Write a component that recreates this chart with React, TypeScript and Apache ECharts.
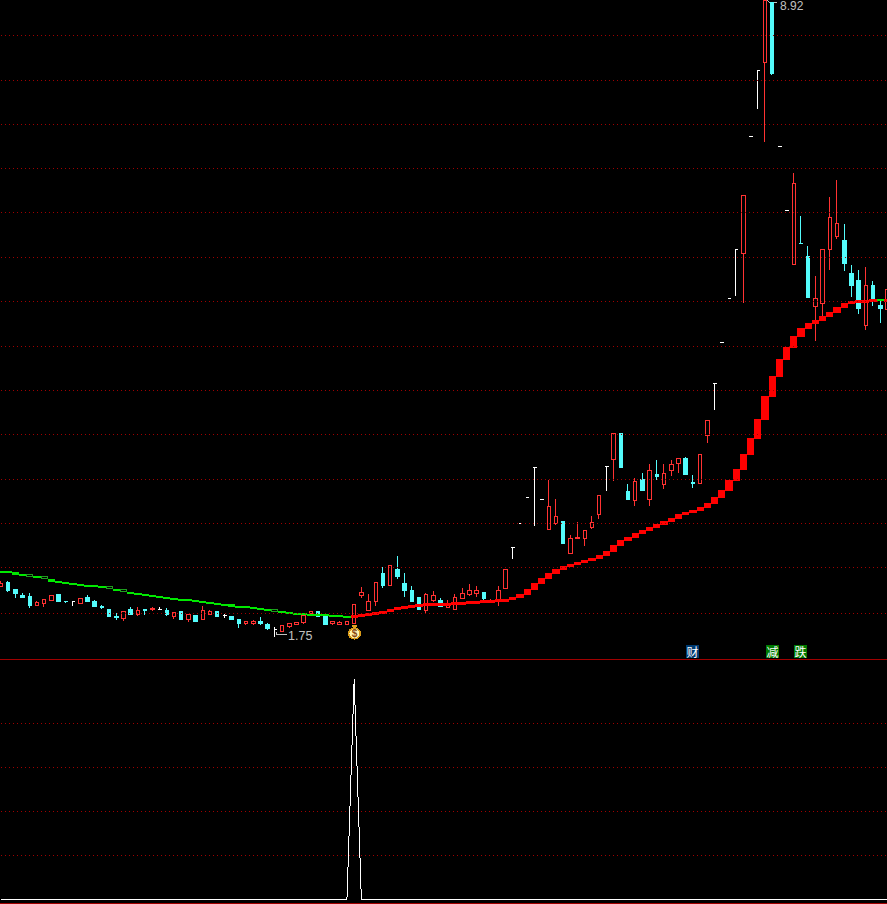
import React, { useEffect, useRef } from "react";
import * as echarts from "echarts";

// [open, close, low, high]
const ohlc: number[][] = [
  [1.989,2.006,1.989,2.018],[2.008,1.972,1.964,2.018],[1.977,1.952,1.932,1.977],[1.942,1.932,1.932,1.957],
  [1.937,1.893,1.883,1.957],[1.894,1.912,1.894,1.917],[1.904,1.925,1.888,1.925],[1.919,1.942,1.919,1.947],
  [1.947,1.917,1.917,1.952],[1.917,1.914,1.907,1.917],[1.914,1.914,1.893,1.919],[1.907,1.930,1.902,1.930],
  [1.932,1.917,1.917,1.947],[1.917,1.888,1.888,1.924],[1.889,1.886,1.878,1.898],[1.878,1.840,1.840,1.878],
  [1.841,1.838,1.826,1.859],[1.835,1.867,1.821,1.867],[1.878,1.854,1.854,1.888],[1.850,1.873,1.845,1.888],
  [1.878,1.873,1.850,1.878],[1.877,1.880,1.868,1.888],[1.875,1.875,1.875,1.888],[1.873,1.850,1.845,1.883],
  [1.840,1.859,1.830,1.859],[1.868,1.830,1.826,1.868],[1.827,1.850,1.817,1.850],[1.845,1.821,1.817,1.850],
  [1.830,1.873,1.830,1.893],[1.850,1.864,1.850,1.873],[1.864,1.840,1.840,1.864],[1.845,1.845,1.835,1.854],
  [1.840,1.826,1.826,1.845],[1.826,1.808,1.789,1.826],[1.809,1.817,1.803,1.817],[1.809,1.821,1.803,1.826],
  [1.821,1.808,1.803,1.840],[1.803,1.785,1.780,1.812],[1.780,1.780,1.750,1.794],[1.772,1.798,1.772,1.798],
  [1.794,1.808,1.789,1.812],[1.803,1.812,1.803,1.812],[1.812,1.845,1.808,1.845],[1.856,1.864,1.856,1.868],
  [1.864,1.840,1.840,1.864],[1.845,1.803,1.803,1.845],[1.809,1.817,1.803,1.817],[1.804,1.812,1.804,1.821],
  [1.804,1.817,1.804,1.821],[1.811,1.898,1.811,1.898],[1.944,1.957,1.932,1.987],[1.873,1.917,1.873,1.952],
  [1.917,2.008,1.893,2.008],[2.055,1.993,1.982,2.092],[1.993,2.098,1.993,2.098],[2.076,2.044,2.028,2.152],
  [2.003,1.967,1.937,2.060],[1.972,1.917,1.917,1.993],[1.932,1.878,1.878,1.937],[1.873,1.947,1.859,1.957],
  [1.922,1.942,1.912,1.967],[1.922,1.888,1.888,1.932],[1.883,1.898,1.883,1.922],[1.878,1.932,1.878,1.952],
  [1.927,1.952,1.927,1.982],[1.947,1.972,1.942,2.003],[1.952,1.967,1.937,1.993],[1.957,1.927,1.917,1.962],
  [1.916,1.922,1.916,1.927],[1.917,1.972,1.893,1.993],[1.982,2.081,1.977,2.081],[2.202,2.202,2.136,2.202],
  [2.340,2.340,2.340,2.340],[2.502,2.502,2.502,2.502],[2.703,2.703,2.324,2.703],[2.489,2.489,2.489,2.489],
  [2.302,2.445,2.302,2.616],[2.340,2.383,2.330,2.491],[2.354,2.225,2.225,2.354],[2.168,2.252,2.168,2.271],
  [2.248,2.259,2.248,2.348],[2.248,2.298,2.208,2.298],[2.314,2.346,2.306,2.384],[2.393,2.516,2.366,2.516],
  [2.710,2.710,2.543,2.710],[2.756,2.949,2.609,2.949],[2.944,2.698,2.698,2.944],[2.537,2.485,2.485,2.589],
  [2.481,2.607,2.447,2.630],[2.616,2.543,2.543,2.663],[2.487,2.677,2.447,2.726],[2.650,2.636,2.616,2.754],
  [2.585,2.657,2.556,2.726],[2.679,2.724,2.643,2.754],[2.726,2.761,2.663,2.768],[2.761,2.650,2.650,2.775],
  [2.598,2.593,2.563,2.650],[2.591,2.796,2.591,2.796],[2.931,3.050,2.877,3.050],[3.353,3.353,3.131,3.353],
  [3.725,3.725,3.725,3.725],[4.171,4.171,4.171,4.171],[4.730,4.730,4.196,4.730],[4.682,5.434,4.122,5.434],
  [6.323,6.323,6.323,6.323],[7.490,7.490,6.782,7.490],[7.638,8.950,6.230,8.973],[8.920,7.424,7.401,8.920],
  [6.163,6.163,6.163,6.163],[5.229,5.229,5.229,5.229],[4.547,5.604,4.547,5.755],[4.807,4.802,4.802,5.153],
  [4.638,4.175,4.175,4.771],[4.083,4.171,3.737,4.414],[4.114,4.730,3.979,4.730],[4.726,5.136,4.486,5.410],
  [4.887,5.057,4.857,5.652],[4.833,4.556,4.475,5.048],[4.440,4.305,4.185,4.544],[4.361,4.058,4.007,4.486],
  [3.888,4.305,3.845,4.521],[4.305,4.132,4.090,4.361],[4.090,4.058,3.915,4.164],[4.055,4.269,4.055,4.285],
];

// candles printed in white (limit-up days)
const whiteCandles = [10,22,31,38,71,72,73,74,75,84,99,100,101,102,104,105,108,109];

const trendLine = [
  2.068,2.063,2.054,2.052,2.046,2.037,2.029,2.020,2.015,2.010,2.005,2.000,1.995,1.990,1.985,1.978,
  1.971,1.963,1.955,1.950,1.945,1.940,1.936,1.931,1.928,1.925,1.920,1.915,1.911,1.906,1.904,1.900,
  1.895,1.892,1.887,1.882,1.879,1.875,1.869,1.863,1.860,1.857,1.855,1.854,1.853,1.850,1.849,1.847,
  1.846,1.851,1.853,1.858,1.862,1.868,1.878,1.888,1.895,1.899,1.902,1.905,1.906,1.907,1.908,1.910,
  1.912,1.915,1.917,1.921,1.923,1.925,1.927,1.938,1.952,1.977,2.008,2.034,2.060,2.081,2.098,2.108,
  2.119,2.130,2.141,2.157,2.179,2.213,2.242,2.259,2.283,2.300,2.318,2.336,2.354,2.372,2.397,2.410,
  2.422,2.441,2.466,2.504,2.550,2.616,2.691,2.796,2.914,3.060,3.246,3.417,3.569,3.680,3.786,3.865,
  3.915,3.945,3.986,4.027,4.079,4.122,4.143,4.153,4.158,4.164,4.164,4.158,
];

const trendGreen = [0,1,2,3,4,5,6,7,8,9,10,11,12,13,14,15,16,17,18,19,20,21,22,23,24,25,26,27,28,29,30,31,32,33,34,35,36,37,38,39,40,41,42,43,44,45,46,47,48,122];
const trendHollow = [4,6,15,17,38];

const signalValues = [
  0,0,0,0,0,0,0,0,0,0,0,0,0,0,0,0,0,0,0,0,0,0,0,0,0,0,0,0,0,0,0,0,0,0,0,0,0,0,0,0,0,0,0,0,0,0,0,0,0,
  100,
  0,0,0,0,0,0,0,0,0,0,0,0,0,0,0,0,0,0,0,0,0,0,0,0,0,0,0,0,0,0,0,0,0,0,0,0,0,0,0,0,0,0,0,0,0,0,0,0,0,0,
  0,0,0,0,0,0,0,0,0,0,0,0,0,0,0,0,0,0,0,0,0,0,0,0,
];

const priceGridLines = [8.194,7.312,6.524,5.823,5.195,4.635,4.137,3.691,3.293,2.938,2.623,2.339,2.088,1.862];
const categories = ohlc.map((_, i) => String(i));
const lowLabel = "1.75";
const highLabel = "8.92";
const badges = [
  { text: "财", bg: "#003a70" },
  { text: "减", bg: "#007a00" },
  { text: "跌", bg: "#007a00" },
];

const RED = "#ff3232";
const CYAN = "#54fcfc";
const GRID = "#a00000";

export default function App() {
  const ref = useRef<HTMLDivElement>(null);
  useEffect(() => {
    document.body.style.margin = "0";
    document.body.style.background = "#000";
    const crisp = document.createElement("style");
    crisp.textContent = "#root svg path { shape-rendering: crispEdges; }";
    document.head.appendChild(crisp);
    const chart = echarts.init(ref.current!, undefined, { renderer: "svg" });

    const candleData = ohlc.map((v, i) => {
      const white = whiteCandles.indexOf(i) >= 0;
      return white
        ? { value: v, itemStyle: { color: "#fff", color0: "#fff", borderColor: "#fff", borderColor0: "#fff", borderColorDoji: "#fff" } }
        : { value: v };
    });
    const trendData = trendLine.map((v, i) => [i, v, trendLine[Math.max(i - 1, 0)]]);
    const badgeLeft = [686, 766, 794];

    chart.setOption({
      animation: false,
      backgroundColor: "#000",
      grid: [
        { left: -2.6, top: 0, width: 893.7, height: 659, outerBoundsMode: "none" },
        { left: -2.6, top: 679.5, width: 893.7, height: 220, outerBoundsMode: "none" },
      ],
      xAxis: [
        { type: "category", gridIndex: 0, data: categories, show: false },
        { type: "category", gridIndex: 1, data: categories, show: false, boundaryGap: true },
      ],
      yAxis: [
        { type: "log", gridIndex: 0, min: 1.6518, max: 8.973, show: false, splitLine: { show: false } },
        {
          type: "value", gridIndex: 1, min: 0, max: 100, interval: 20,
          axisLine: { show: false }, axisTick: { show: false }, axisLabel: { show: false },
          splitLine: { show: true, showMinLine: false, showMaxLine: false, lineStyle: { color: GRID, type: [1, 3], width: 1 } },
        },
      ],
      series: [
        {
          type: "candlestick",
          xAxisIndex: 0, yAxisIndex: 0,
          barWidth: 4,
          clip: false,
          data: candleData,
          itemStyle: { color: "#000", color0: CYAN, borderColor: RED, borderColor0: CYAN, borderColorDoji: "#fff", borderWidth: 1 },
          markLine: {
            silent: true, symbol: "none", label: { show: false }, animation: false,
            lineStyle: { color: GRID, type: [1, 3], width: 1 },
            data: priceGridLines.map((v) => ({ yAxis: v })),
          },
        },
        {
          type: "custom",
          xAxisIndex: 0, yAxisIndex: 0,
          z: 4,
          clip: false,
          data: trendData,
          encode: { x: 0, y: 1 },
          renderItem: (params: any, api: any) => {
            const i = api.value(0);
            const a = api.coord([i, api.value(1)]);
            const b = api.coord([i, api.value(2)]);
            const w = api.size([1, 0])[0];
            const x0 = Math.round(a[0] - w / 2);
            const x1 = Math.round(a[0] + w / 2);
            const top = Math.round(Math.min(a[1], b[1]));
            let bottom = Math.round(Math.max(a[1], b[1])) + 1;
            const hollow = trendHollow.indexOf(i) >= 0;
            const green = trendGreen.indexOf(i) >= 0;
            if (bottom - top < 3) bottom = top + (green && !hollow ? 2 : 3);
            if (hollow) {
              return {
                type: "rect",
                shape: { x: x0 + 0.5, y: top - 0.5, width: x1 - x0 - 1, height: 2 },
                style: { fill: "none", stroke: "#1f9d1f", lineWidth: 1 },
              };
            }
            return {
              type: "rect",
              shape: { x: x0, y: top, width: x1 - x0, height: bottom - top },
              style: { fill: green ? "#00e800" : "#ff0000" },
            };
          },
        },
        {
          type: "line",
          xAxisIndex: 1, yAxisIndex: 1,
          data: signalValues,
          symbol: "none",
          clip: false,
          lineStyle: { color: "#fff", width: 1 },
        },
      ],
      graphic: [
        { type: "line", shape: { x1: 0, y1: 659.5, x2: 887, y2: 659.5 }, style: { stroke: "#a00000", lineWidth: 1 } },
        { type: "line", shape: { x1: 0, y1: 903.5, x2: 887, y2: 903.5 }, style: { stroke: "#a00000", lineWidth: 1 } },
        // low price marker
        { type: "polyline", shape: { points: [[287, 634.5], [277, 634.5], [276, 632]] }, style: { stroke: "#c0c0c0", fill: "none", lineWidth: 1 } },
        { type: "text", x: 288, y: 635.5, style: { text: lowLabel, fill: "#c0c0c0", font: "12.5px 'Liberation Sans'", textVerticalAlign: "middle" } },
        // high price marker
        { type: "polyline", shape: { points: [[777, 2.5], [770, 2.5], [767, 0.5]] }, style: { stroke: "#c0c0c0", fill: "none", lineWidth: 1 } },
        { type: "text", x: 780, y: 0, style: { text: highLabel, fill: "#c0c0c0", font: "12px 'Liberation Sans'", textVerticalAlign: "top" } },
        // money bag
        {
          type: "group", x: 354.5, y: 632,
          children: [
            { type: "polygon", shape: { points: [[-3, -7], [3, -7], [1.5, -3.5], [-1.5, -3.5]] }, style: { fill: "#e0a020" } },
            { type: "ellipse", shape: { cx: 0, cy: 1.5, rx: 6.8, ry: 6 }, style: { fill: "#d89a18" } },
            { type: "ellipse", shape: { cx: 0, cy: 1.5, rx: 5, ry: 4.6 }, style: { fill: "#fff4b0" } },
            { type: "text", x: 0, y: 1.5, style: { text: "$", fill: "#8a4a10", font: "bold 10px 'Liberation Sans'", textAlign: "center", textVerticalAlign: "middle" } },
          ],
        },
        // signal badges
        ...badges.flatMap((b, k) => [
          { type: "rect", shape: { x: badgeLeft[k], y: 645, width: 13, height: 13 }, style: { fill: b.bg } },
          {
            type: "text", x: badgeLeft[k] + 6.5, y: 651.5,
            style: { text: b.text, fill: "#fff", font: "12px 'Noto Sans CJK SC'", textAlign: "center", textVerticalAlign: "middle" },
          },
        ]),
      ],
    });
    return () => chart.dispose();
  }, []);
  return <div ref={ref} style={{ width: 887, height: 904 }} />;
}
